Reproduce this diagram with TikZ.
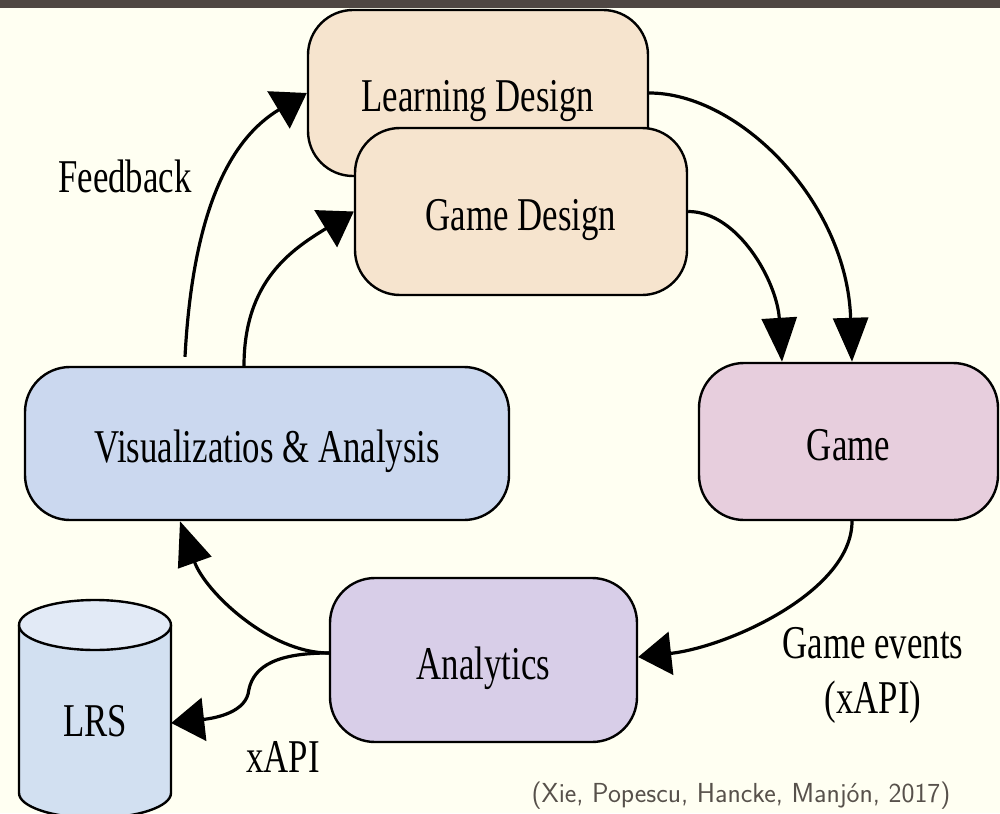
\documentclass[tikz,border=0pt]{standalone}
\usepackage{fontspec}
\newfontfamily\dgfont[FakeStretch=0.74]{Liberation Serif}
\usetikzlibrary{arrows.meta,calc}
\definecolor{bg}{HTML}{FFFFF2}
\definecolor{topbar}{HTML}{4F4743}
\definecolor{peach}{HTML}{F6E4CE}
\definecolor{visblue}{HTML}{CBD8EF}
\definecolor{gamepink}{HTML}{E7CEDD}
\definecolor{lav}{HTML}{D8CEE8}
\definecolor{lrsbody}{HTML}{D2E0F1}
\definecolor{lrstop}{HTML}{E2EAF6}
\definecolor{citegray}{HTML}{57514B}
\begin{document}
\begin{tikzpicture}[x=1pt,y=-1pt,
  box/.style={draw=black, line width=2.4pt, rounded corners=45pt, inner sep=0pt,
    font=\dgfont\fontsize{47}{50}\selectfont, text height=40pt, text depth=2pt},
  lbl/.style={inner sep=0pt, font=\dgfont\fontsize{47}{50}\selectfont},
  cite/.style={inner sep=0pt, text=citegray, font=\sffamily\fontsize{27.5}{30}\selectfont},
  link/.style={draw=black, line width=3.2pt},
  vtip/.style={-{Triangle[length=44pt,width=35pt]}},
  htip/.style={-{Triangle[length=33pt,width=43pt]}}]
\useasboundingbox (0,0) rectangle (1000,813);
\fill[bg] (0,0) rectangle (1000,813);
\fill[topbar] (0,0) rectangle (1000,8);

% process boxes
\node[box, fill=peach, minimum width=340pt, minimum height=166pt] (ld) at (478,93) {Learning Design};
\node[box, fill=peach, minimum width=332pt, minimum height=167pt] (gd) at (521,211.5) {Game Design};
\node[box, fill=visblue, minimum width=484pt, minimum height=153pt] (vis) at (267,443.5) {Visualizatios \& Analysis};
\node[box, fill=gamepink, minimum width=299pt, minimum height=157pt] (game) at (848.5,441.5) {Game};
\node[box, fill=lav, minimum width=307pt, minimum height=164pt] (an) at (483.5,660) {Analytics};

% LRS store
\filldraw[fill=lrsbody, line width=2.4pt] (19,625) -- (19,793)
  arc[start angle=180, end angle=360, x radius=76pt, y radius=25pt] -- (171,625);
\filldraw[fill=lrstop, line width=2.4pt] (95,625) ellipse [x radius=76pt, y radius=25pt];
\node[lbl, minimum width=152pt, text height=40pt, text depth=2pt] (lrs) at (95,717) {LRS};

% connectors
\draw[link, htip] ([xshift=-82pt,yshift=9pt]vis.north)
  .. controls +(8,-150) and +(-75,45) .. (ld.west);
\draw[link, htip] ([xshift=-23pt]vis.north)
  .. controls +(0,-85) and +(-62,38) .. (gd.west);
\draw[link, vtip] (ld.east)
  .. controls +(90,0) and +(-5,-160) .. ([xshift=3.5pt]game.north);
\draw[link, vtip] (gd.east)
  .. controls +(50,0) and +(-5,-80) .. ([xshift=-66.5pt]game.north);
\draw[link, htip] ([xshift=3.5pt]game.south)
  .. controls +(0,70) and +(90,-10) .. ([yshift=3pt]an.east);
\draw[link, vtip] ([yshift=7pt]an.west)
  .. controls +(-60,0) and +(25,70) .. ([xshift=-87pt]vis.south);
\draw[link, htip] ([yshift=7pt]an.west)
  .. controls +(-50,0) and +(5,-25) .. ++(-80,37)
  .. controls +(-2,22) and +(45,-5) .. ([yshift=-6pt]lrs.east);

% labels
\node[lbl, anchor=base] (fb) at (125,193) {Feedback};
\node[lbl, anchor=base] (ge) at (873,658) {Game events};
\node[lbl, anchor=base] (gx) at (873,713) {(xAPI)};
\node[lbl, anchor=base] (xa) at (283,772) {xAPI};
\node[cite, anchor=base] (src) at (741,802) {(Xie, Popescu, Hancke, Manjón, 2017)};
\end{tikzpicture}
\end{document}
